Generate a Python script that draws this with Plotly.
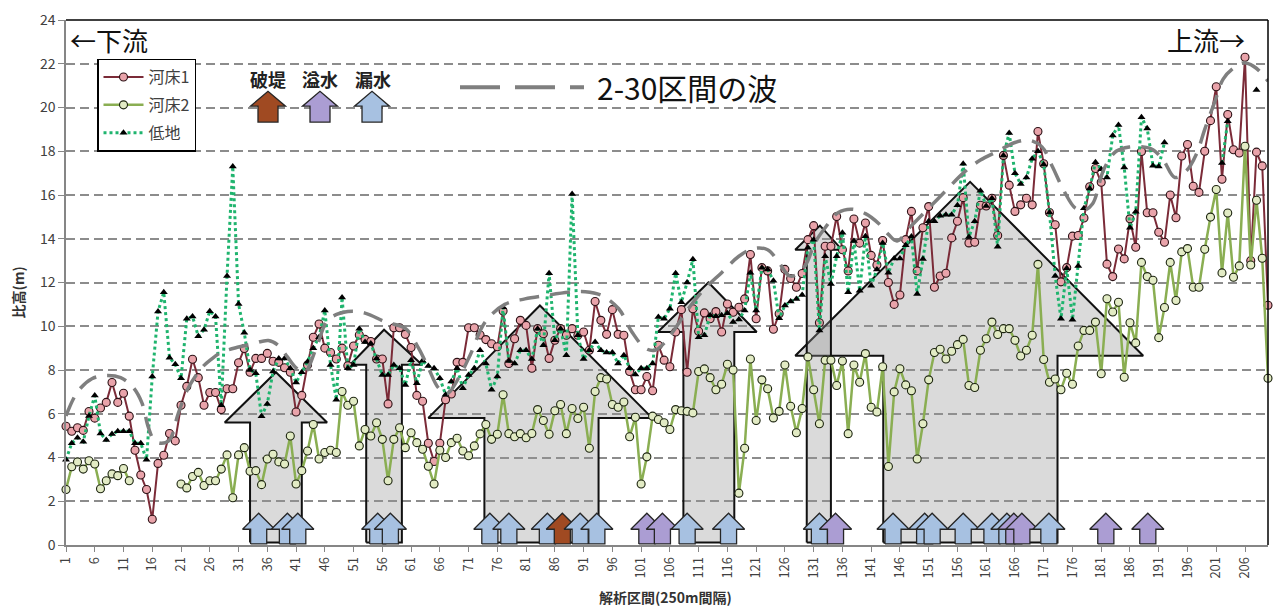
import plotly.graph_objects as go

# ---------------- data ----------------
N_SECTIONS = 210
sections = list(range(1, N_SECTIONS + 1))

# 河床1 (river bed 1) elevation, m
bed1 = [
    5.43, 5.2, 5.36, 5.24, 6.1, 5.8, 6.26, 6.52, 7.43, 6.52,
    6.94, 5.89, 4.33, 3.2, 2.54, 1.18, 3.73, 4.1, 5.1, 4.76,
    6.39, 7.25, 8.49, 7.65, 6.39, 6.97, 6.97, 6.19, 7.14, 7.14,
    8.33, 8.98, 7.9, 8.53, 8.53, 8.76, 8.4, 8.35, 8.1, 7.9,
    6.08, 6.84, 8.23, 9.5, 10.1, 9.0, 8.8, 8.5, 9.0, 8.2,
    9.1, 9.6, 9.4, 9.3, 8.5, 8.5, 6.45, 9.93, 9.93, 9.63,
    9.03, 6.84, 6.57, 4.65, 3.82, 4.65, 6.64, 6.9, 8.35, 8.35,
    9.93, 9.93, 9.6, 9.39, 9.2, 9.06, 10.7, 8.3, 9.43, 10.27,
    10.04, 8.08, 9.89, 9.66, 8.53, 9.36, 9.89, 9.59, 9.89, 9.59,
    9.74, 8.9, 11.13, 10.27, 9.63, 10.76, 9.63, 9.59, 7.93, 7.1,
    7.1, 7.7, 7.05, 9.13, 8.45, 8.15, 9.74, 10.76, 7.9, 10.8,
    9.77, 10.61, 10.34, 10.67, 9.74, 11.02, 10.64, 10.87, 11.25, 13.28,
    10.34, 12.68, 12.53, 9.86, 10.57, 12.6, 12.18, 11.78, 12.41, 13.96,
    14.6, 10.16, 13.66, 13.66, 15.02, 13.5, 12.53, 14.9, 13.8, 14.72,
    13.24, 12.8, 13.92, 12.0, 11.0, 11.43, 13.96, 15.25, 12.53, 14.5,
    15.47, 11.78, 12.3, 12.42, 14.04, 14.8, 15.88, 13.81, 13.84, 15.53,
    15.5, 15.85, 14.15, 17.81, 16.45, 15.25, 15.55, 15.85, 15.55, 18.9,
    17.43, 15.2, 14.64, 12.03, 12.68, 14.12, 14.15, 14.95, 16.38, 17.21,
    16.58, 12.84, 12.27, 13.53, 13.08, 14.91, 13.61, 17.99, 15.19, 15.19,
    14.3, 13.84, 16.0, 14.96, 17.78, 18.31, 16.4, 16.12, 18.0, 19.4,
    20.95, 16.72, 19.68, 18.07, 17.92, 22.3, 13.0, 17.96, 17.33, 10.96,
]

# 河床2 (river bed 2) elevation, m  (None = no survey)
bed2 = [
    2.54, 3.58, 3.8, 3.47, 3.85, 3.7, 2.57, 2.94, 3.25, 3.17,
    3.5, 2.94, None, None, None, None, None, None, None, None,
    2.79, 2.61, 3.13, 3.32, 2.72, 2.94, 2.94, 3.47, 4.12, 2.16,
    4.12, 4.45, 3.37, 3.4, 2.76, 3.93, 4.15, 3.8, 3.7, 4.98,
    2.79, 3.4, 4.3, 5.51, 3.93, 4.23, 4.33, 4.23, 7.02, 6.39,
    6.57, 4.53, 5.28, 4.98, 5.59, 4.83, 2.94, 4.83, 5.36, 4.45,
    5.13, 4.68, 4.38, 3.6, 2.79, 4.33, 4.0, 4.68, 4.88, 4.3,
    4.08, 4.53, 5.08, 5.51, 4.83, 5.06, 6.87, 5.09, 4.95, 5.09,
    4.9, 5.1, 6.19, 5.69, 5.06, 6.14, 6.42, 5.09, 6.24, 5.78,
    6.3, 4.42, 7.02, 7.65, 7.59, 6.42, 6.3, 6.54, 4.95, 5.84,
    2.79, 4.03, 5.89, 5.74, 5.59, 5.28, 6.19, 6.14, 6.11, 6.04,
    7.93, 8.05, 7.65, 7.1, 7.35, 8.26, 8.0, 2.37, 4.42, 8.5,
    5.69, 7.55, 7.14, 5.81, 6.11, 8.23, 6.34, 5.13, 6.24, 8.6,
    7.1, 5.54, 8.45, 8.45, 7.29, 8.41, 5.09, 8.23, 7.44, 8.75,
    6.3, 6.08, 8.15, 3.59, 7.0, 8.06, 7.32, 7.05, 3.93, 5.54,
    7.55, 8.8, 8.95, 8.5, 8.86, 9.16, 9.4, 7.29, 7.2, 8.9,
    9.43, 10.19, 9.62, 9.89, 9.89, 9.36, 8.64, 8.9, 9.59, 12.83,
    8.48, 7.44, 7.59, 7.1, 7.85, 7.35, 9.1, 9.81, 9.81, 10.19,
    7.83, 11.26, 10.65, 11.1, 7.67, 10.16, 9.24, 12.92, 12.27, 12.1,
    9.48, 10.86, 12.92, 11.18, 13.4, 13.55, 11.78, 11.78, 13.52, 14.99,
    16.25, 12.44, 15.18, 12.24, 12.76, 18.23, 12.8, 15.76, 13.11, 7.62,
]

# 低地 (low ground) elevation, m  (None = no data)
lowland = [
    3.9, 4.65, 4.9, 4.72, 5.9, 6.83, 5.1, 4.8, 5.07, 5.2,
    5.2, 5.2, 4.65, 4.65, 3.9, 7.7, 10.67, 11.55, 8.56, 8.26,
    7.62, 10.34, 10.45, 9.54, 9.84, 10.69, 10.45, 6.39, 12.3, 17.3,
    11.02, 9.7, 8.0, 7.85, 5.89, 6.45, 7.93, 8.53, 8.53, 8.08,
    7.43, 7.9, 8.38, 9.0, 9.5, 10.72, 8.23, 6.64, 11.32, 8.08,
    8.23, 9.89, 9.28, 9.21, 8.53, 7.77, 7.77, 8.23, 8.08, 7.32,
    8.45, 7.4, 8.42, 8.18, 8.08, 7.62, 6.87, 7.47, 8.08, 7.17,
    7.77, 8.08, 8.9, 8.3, 7.1, 7.7, 10.87, 8.41, 8.3, 8.9,
    8.9, 8.5, 9.89, 9.13, 12.42, 9.36, 9.89, 8.68, 16.05, 9.59,
    8.5, 8.9, 9.28, 8.9, 8.8, 8.8, 8.3, 8.68, 8.08, 7.8,
    8.08, 8.08, 8.3, 10.42, 10.34, 10.8, 12.42, 11.1, 12.0, 13.06,
    9.5, 9.59, 10.5, 10.46, 10.5, 10.6, 10.19, 10.31, 10.72, 12.45,
    10.72, 12.68, 12.6, 12.08, 10.37, 10.95, 11.13, 11.25, 11.43, 13.59,
    13.96, 9.81, 13.2, 11.93, 13.2, 14.27, 11.55, 13.9, 11.62, 14.12,
    11.85, 12.6, 13.81, 12.45, 13.1, 13.1, 13.7, 14.1, 11.47, 13.08,
    14.8, 14.8, 15.05, 15.1, 15.1, 15.53, 17.43, 14.08, 14.8, 16.2,
    15.5, 15.85, 13.63, 17.81, 18.83, 17.0, 16.5, 16.8, 17.66, 18.0,
    17.4, 15.2, 12.3, 10.34, 12.65, 10.3, 12.75, 15.4, 16.3, 17.5,
    17.18, 16.8, 18.72, 19.2, 17.26, 14.5, 15.23, 19.56, 19.04, 17.34,
    17.3, 18.4, None, None, None, None, None, None, None, None,
    None, 17.46, 19.37, None, None, None, None, 20.8, None, None,
]

# 2-30区間の波 : envelope of the 2-30 section wave
wave_x = [
    1, 3, 5.5, 8, 10.5, 12.7, 14.2, 15.3, 16.3, 17.5,
    19, 20.5, 22.3, 24.6, 26.3, 28, 31, 33.5, 36.2, 37.8,
    39.5, 41, 42.5, 44.5, 46.6, 50, 53, 56.5, 60, 62.3,
    64, 65.7, 67.2, 69.8, 71.3, 73.9, 77.3, 80.8, 84.3, 88.4,
    91.3, 94.2, 97.1, 99.4, 101.7, 103.4, 105.2, 106.9, 109.2, 112,
    115, 118, 120.5, 123, 125, 126.8, 128.3, 129.8, 131.2, 133,
    135.3, 137.6, 140, 142.3, 144, 145.5, 148, 151, 154, 157,
    160, 163, 166, 168.5, 170.7, 172.5, 174.5, 176.5, 178, 179.5,
    181.5, 183.6, 186, 188.3, 190, 191.8, 193.8, 195.8, 197.6, 199,
    200.8, 202.2, 204, 205.7, 207.5, 209.2, 210,
]
wave_y = [
    5.9, 7.0, 7.6, 7.75, 7.65, 7.2, 6.5, 5.4, 4.8, 4.65,
    4.8, 6.0, 7.2, 8.1, 8.5, 8.8, 9.05, 9.2, 9.35, 9.15,
    8.6, 8.1, 7.9, 9.0, 10.3, 10.67, 10.6, 10.2, 9.9, 9.0,
    8.1, 7.2, 6.9, 7.9, 8.7, 10.2, 11.0, 11.25, 11.4, 11.55,
    11.58, 11.4, 10.8, 9.74, 9.0, 8.9, 9.28, 9.89, 10.8, 11.7,
    12.45, 13.2, 13.55, 13.5, 12.9, 12.3, 12.4, 12.9, 13.8, 14.5,
    15.2, 15.35, 15.15, 14.7, 14.2, 13.9, 14.6, 15.4, 16.2, 17.0,
    17.6, 18.0, 18.4, 18.5, 18.2, 17.3, 16.2, 15.4, 15.3, 15.6,
    17.2, 18.0, 18.2, 18.2, 18.07, 17.6, 16.8, 17.1, 17.9, 19.0,
    20.3, 21.3, 21.8, 22.04, 21.88, 21.47, 21.2,
]

# event locations (section numbers)
leak_at = [34.5, 39.5, 41.3, 55.2, 57.4, 74.7, 78.0, 84.7, 90.4, 93.3,
           109.0, 116.2, 132.0, 144.8, 150.3, 151.6, 157.0, 162.0, 164.6, 171.9]
overflow_at = [102.0, 104.7, 134.8, 165.8, 167.2, 181.8, 189.1]
breach_at = [87.3]

# wave ranges: head_left, shaft_left, shaft_right, head_right, apex_x, apex_y, base_y
wave_ranges = [
    (28.6, 33.0, 42.0, 46.4, 37.5, 7.9, 5.6),
    (50.4, 53.2, 59.4, 62.9, 56.3, 9.84, 8.24),
    (64.0, 73.75, 93.6, 102.9, 83.4, 10.95, 5.81),
    (103.9, 108.35, 117.2, 121.1, 112.7, 12.0, 9.74),
    (127.8, 143.1, 173.4, 188.3, 158.2, 16.6, 8.65),
    (127.8, 129.8, 134.0, 135.9, 132.1, 14.6, 13.5),
]

x_ticks = list(range(1, 207, 5))

# ---------------- style ----------------
FONT = "Noto Sans CJK JP, Noto Sans, sans-serif"
C_BED1_LINE, C_BED1_FILL = "#7b2b38", "#e9a3aa"
C_BED2_LINE, C_BED2_FILL = "#8aae52", "#e2ebc4"
C_LOW = "#1fb46e"
C_LEAK, C_OVER, C_BREACH = "#a7c1e1", "#ab9dd3", "#a04a22"

# plot-area pixel frame used for the decorations placed in paper units
PL, PR, PT, PB = 66, 1268, 15, 545


def px_x(x):
    return (x - PL) / (PR - PL)


def px_y(y):
    return (PB - y) / (PB - PT)


def block_arrow(xc, half_head, half_shaft, y0, y_base, y_apex):
    xs = [xc - half_shaft, xc - half_shaft, xc - half_head, xc,
          xc + half_head, xc + half_shaft, xc + half_shaft, xc - half_shaft]
    ys = [y0, y_base, y_base, y_apex, y_base, y_base, y0, y0]
    return xs, ys


fig = go.Figure()

# large wave-range arrows (behind the data)
for hl, sl, sr, hr, ax, ay, by in wave_ranges:
    xs = [sl, sl, hl, ax, hr, sr, sr, sl]
    ys = [0.12, by, by, ay, by, by, 0.12, 0.12]
    fig.add_trace(go.Scatter(
        x=xs, y=ys, mode="lines", fill="toself",
        fillcolor="rgba(150,150,150,0.35)",
        line=dict(color="#111111", width=2), showlegend=False,
        hoverinfo="skip"))

fig.add_trace(go.Scatter(
    x=sections, y=bed1, name="河床1", mode="lines+markers",
    legendgroup="a",
    line=dict(color=C_BED1_LINE, width=2),
    marker=dict(symbol="circle", size=8, color=C_BED1_FILL,
                line=dict(color="#2b1115", width=1.1)),
    cliponaxis=False))
fig.add_trace(go.Scatter(
    x=sections, y=bed2, name="河床2", mode="lines+markers",
    legendgroup="b",
    line=dict(color=C_BED2_LINE, width=2.5),
    marker=dict(symbol="circle", size=8, color=C_BED2_FILL,
                line=dict(color="#1c2410", width=1.1)),
    cliponaxis=False))
fig.add_trace(go.Scatter(
    x=sections, y=lowland, name="低地", mode="lines+markers",
    legendgroup="c",
    line=dict(color=C_LOW, width=3, dash="dot"),
    marker=dict(symbol="triangle-up", size=7, color="#000000"),
    cliponaxis=False))

# event arrows along the bottom
events = ([(x, C_LEAK) for x in leak_at] + [(x, C_OVER) for x in overflow_at]
          + [(x, C_BREACH) for x in breach_at])
events.sort(key=lambda e: e[0])
for xc, col in events:
    xs, ys = block_arrow(xc, 2.8, 1.4, 0.05, 0.72, 1.45)
    fig.add_trace(go.Scatter(
        x=xs, y=ys, mode="lines", fill="toself", fillcolor=col,
        line=dict(color="#262626", width=1.3), showlegend=False,
        hoverinfo="skip"))

# wave envelope
fig.add_trace(go.Scatter(
    x=wave_x, y=wave_y, mode="lines", showlegend=False,
    line=dict(color="#7f7f7f", width=3.5, dash="20px,11px", shape="spline"),
    hoverinfo="skip"))

shapes = [
    dict(type="line", xref="paper", yref="paper", x0=0, x1=1, y0=1, y1=1,
         line=dict(color="#000000", width=1.5), layer="above"),
    dict(type="line", xref="paper", yref="paper", x0=1, x1=1, y0=0, y1=1,
         line=dict(color="#000000", width=1.5), layer="above"),
    dict(type="line", xref="paper", yref="paper",
         x0=px_x(460), x1=px_x(584), y0=px_y(83), y1=px_y(83),
         line=dict(color="#7f7f7f", width=4, dash="40px,15px")),
]

# key arrows for 破堤 / 溢水 / 漏水
for cx, col in [(268, C_BREACH), (320, C_OVER), (372, C_LEAK)]:
    xs, ys = block_arrow(cx, 17.5, 10, 118, 102, 87)
    path = "M " + " L ".join(f"{px_x(a):.5f},{px_y(b):.5f}"
                             for a, b in zip(xs, ys)) + " Z"
    shapes.append(dict(type="path", xref="paper", yref="paper", path=path,
                       fillcolor=col, line=dict(color="#262626", width=1.3)))

annotations = [
    dict(text="←下流", x=px_x(68), y=px_y(35), xanchor="left", yanchor="middle",
         showarrow=False, font=dict(size=26, color="#111111")),
    dict(text="上流→", x=px_x(1247), y=px_y(35), xanchor="right",
         yanchor="middle", showarrow=False, font=dict(size=26, color="#111111")),
    dict(text="2-30区間の波", x=px_x(595), y=px_y(83), xanchor="left",
         yanchor="middle", showarrow=False, font=dict(size=30, color="#111111")),
    dict(text="<b>比高(m)</b>", x=px_x(18), y=px_y(290), textangle=-90,
         xanchor="center", yanchor="middle", showarrow=False,
         font=dict(size=14, color="#333333")),
    dict(text="<b>解析区間(250m間隔)</b>", x=px_x(665), y=px_y(597),
         xanchor="center", yanchor="middle", showarrow=False,
         font=dict(size=14, color="#333333")),
]
for cx, label in [(268, "破堤"), (320, "溢水"), (373, "漏水")]:
    annotations.append(dict(
        text=f"<b>{label}</b>", x=px_x(cx), y=px_y(75), xanchor="center",
        yanchor="middle", showarrow=False,
        font=dict(size=18, color="#222222")))

for a in annotations:
    a.update(xref="paper", yref="paper")

fig.update_layout(
    width=1277, height=610,
    margin=dict(l=PL, r=1277 - PR, t=PT, b=610 - PB),
    paper_bgcolor="#ffffff", plot_bgcolor="#ffffff",
    font=dict(family=FONT, color="#404040"),
    hovermode=False,
    shapes=shapes,
    annotations=annotations,
    legend=dict(
        x=px_x(97), y=px_y(54), xanchor="left", yanchor="top",
        bgcolor="#ffffff", bordercolor="#000000", borderwidth=1.5,
        font=dict(size=16, color="#404040"),
        tracegroupgap=4, itemwidth=40),
    xaxis=dict(
        range=[1, N_SECTIONS], tickmode="array", tickvals=x_ticks,
        ticktext=[str(t) for t in x_ticks], tickangle=-90,
        tickfont=dict(size=13, color="#404040"),
        ticks="outside", ticklen=5, tickcolor="#868686",
        showline=True, linecolor="#868686", linewidth=1.5,
        showgrid=False, zeroline=False),
    yaxis=dict(
        range=[0, 24], dtick=2, tick0=0,
        tickfont=dict(size=14, color="#404040"),
        ticks="outside", ticklen=6, tickcolor="#868686",
        showline=True, linecolor="#868686", linewidth=1.5,
        showgrid=True, gridcolor="#8c8c8c", gridwidth=1.5,
        griddash="9px,5px", zeroline=False),
)

fig.write_html("out.html")
